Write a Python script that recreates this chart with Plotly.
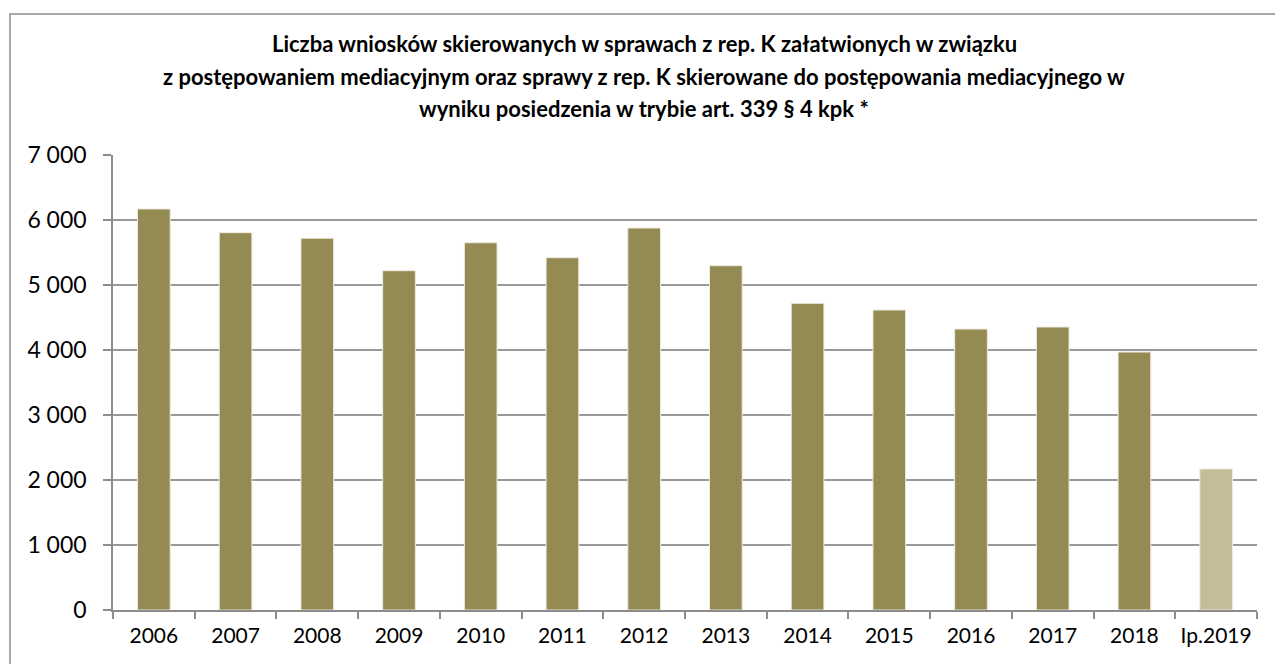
import plotly.graph_objects as go

categories = ["2006", "2007", "2008", "2009", "2010", "2011", "2012",
              "2013", "2014", "2015", "2016", "2017", "2018", "Ip.2019"]
values = [6170, 5805, 5720, 5220, 5650, 5420, 5877,
          5297, 4718, 4615, 4323, 4354, 3969, 2170]
bar_colors = ["#948A54"] * 13 + ["#C4BD97"]
y_ticks = [0, 1000, 2000, 3000, 4000, 5000, 6000, 7000]
y_tick_labels = ["0", "1 000", "2 000", "3 000", "4 000", "5 000", "6 000", "7 000"]
title_lines = ["Liczba wniosków skierowanych w sprawach z rep. K załatwionych w związku",
               "z postępowaniem mediacyjnym oraz sprawy z rep. K skierowane do postępowania mediacyjnego w",
               "wyniku posiedzenia w trybie art. 339 § 4 kpk *"]

W, H = 1275, 664
L, R, T, B = 113, 18, 155, 54
pw, ph = W - L - R, H - T - B

fig = go.Figure(go.Bar(
    x=categories, y=values,
    marker=dict(color=bar_colors, line=dict(color="#EEEBDD", width=1)),
    width=0.4,
))

title_y_px = [44, 77, 109]
annotations = [dict(
    text=line, xref="paper", yref="paper",
    x=(644 - L) / pw, y=(H - B - yp) / ph,
    xanchor="center", yanchor="middle",
    showarrow=False, align="center",
    font=dict(family="Lato", size=22, color="black", weight="bold"),
) for line, yp in zip(title_lines, title_y_px)]

fig.update_layout(
    width=W, height=H,
    margin=dict(l=L, r=R, t=T, b=B),
    paper_bgcolor="white", plot_bgcolor="white",
    font=dict(family="Lato", color="black"),
    showlegend=False,
    bargap=0.6,
    xaxis=dict(
        type="category",
        range=[-0.5, 13.5],
        showline=True, linecolor="#8C8C8C", linewidth=1.5,
        ticks="outside", ticklen=7, tickcolor="#8C8C8C", tickwidth=1.5,
        tickson="boundaries",
        showgrid=False,
        ticklabelstandoff=6,
        tickfont=dict(size=21, family="Lato", color="black"),
    ),
    yaxis=dict(
        range=[0, 7000],
        tickvals=y_ticks, ticktext=y_tick_labels,
        showline=True, linecolor="#8C8C8C", linewidth=1.5,
        ticks="outside", ticklen=8, tickcolor="#8C8C8C", tickwidth=1.5,
        showgrid=True, gridcolor="#999999", gridwidth=1.5,
        zeroline=False,
        ticklabelstandoff=12,
        tickfont=dict(size=23, family="Lato", color="black"),
    ),
    annotations=annotations,
    shapes=[dict(
        type="rect", xref="paper", yref="paper",
        x0=(10 - L) / pw, x1=(W + 20 - L) / pw,
        y0=(H - B - (H + 20)) / ph, y1=(H - B - 14) / ph,
        line=dict(color="#8C8C8C", width=1.5), fillcolor="rgba(0,0,0,0)",
        layer="below",
    )],
)

fig.write_html("out.html",
               config={"displayModeBar": False},
               post_script="document.body.style.margin='0';document.body.style.overflow='hidden';")
